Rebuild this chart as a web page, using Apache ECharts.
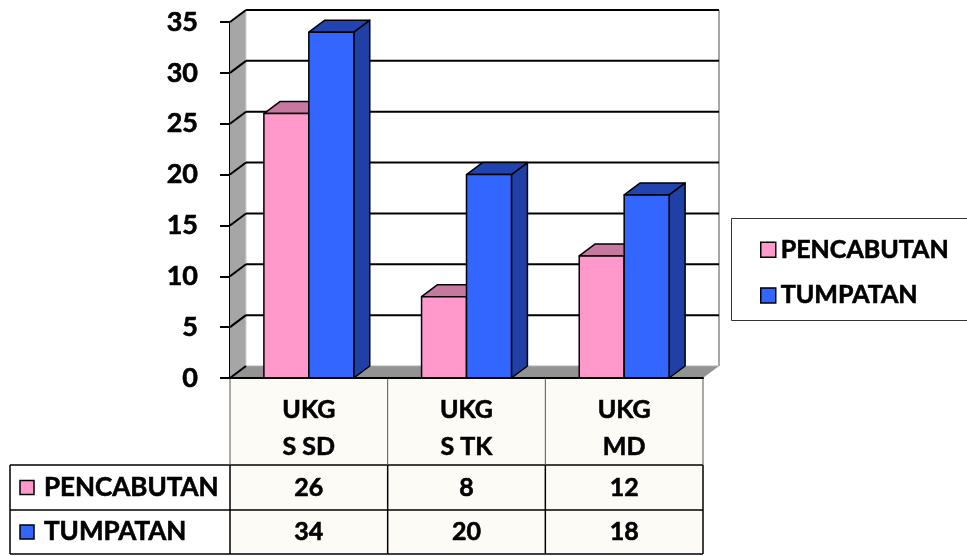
<!DOCTYPE html>
<html><head><meta charset="utf-8">
<script src="https://cdn.jsdelivr.net/npm/echarts@6/dist/echarts.min.js"></script>
<style>html,body{margin:0;padding:0;background:#fff}#c{width:967px;height:556px}</style>
</head><body><div id="c"></div>
<script>
// ---- data ----
const categories = ['UKG\nS SD', 'UKG\nS TK', 'UKG\nMD'];
const seriesNames = ['PENCABUTAN', 'TUMPATAN'];
const pencabutan = [26, 8, 12];
const tumpatan = [34, 20, 18];
const yTicks = [0, 5, 10, 15, 20, 25, 30, 35];

// ---- style ----
const FONT = 'Lato';
const DX = 16, DY = 12;
const colors = [
  {front: '#ff99cc', top: '#c7789f', side: '#b8618c'},
  {front: '#3366ff', top: '#2244b0', side: '#2040a6'}
];
const ROW_Y = [465, 510, 554];
const TB = {textBorderColor: '#000', textBorderWidth: 0.6};

const chart = echarts.init(document.getElementById('c'), null, {renderer: 'canvas'});

function wallRender(params, api) {
  const cs = params.coordSys;
  const x0 = cs.x, x1 = cs.x + cs.width;
  const y = api.coord([0, api.value(1)])[1];
  const children = [];
  if (params.dataIndex === 0) {
    const yTop = cs.y, yBot = cs.y + cs.height;
    children.push({type: 'polygon', shape: {points: [[x0, yTop], [x0 + DX, yTop - DY], [x0 + DX, yBot - DY], [x0, yBot]]},
      style: {fill: '#a6a6a6', stroke: null}});
    children.push({type: 'polygon', shape: {points: [[x0, yBot], [x0 + DX, yBot - DY], [x1 + DX, yBot - DY], [x1, yBot]]},
      style: {fill: '#939393', stroke: null}});
    children.push({type: 'line', shape: {x1: x1 + DX, y1: yTop - DY, x2: x1 + DX, y2: yBot - DY},
      style: {stroke: '#888', lineWidth: 1.5}});
    children.push({type: 'line', shape: {x1: x0 + DX, y1: yTop - DY, x2: x0 + DX, y2: yBot - DY},
      style: {stroke: '#d0d0d0', lineWidth: 1}});
  }
  const isZero = api.value(1) === 0;
  children.push({type: 'line', shape: {x1: x0 + DX, y1: y - DY, x2: x1 + DX, y2: y - DY},
    style: {stroke: isZero ? '#b0b0b0' : '#000', lineWidth: isZero ? 1 : 2}});
  children.push({type: 'line', shape: {x1: x0, y1: y, x2: x0 + DX, y2: y - DY},
    style: {stroke: '#000', lineWidth: 2}});
  return {type: 'group', children};
}

function barRender(si) {
  return function (params, api) {
    const i = api.value(0), v = api.value(1);
    const c = api.coord([i, v]);
    const base = api.coord([i, 0]);
    const band = api.size([1, 0])[0];
    const bw = band * 0.285;
    const left = c[0] - bw + si * bw;
    const right = left + bw;
    const top = c[1], bot = base[1];
    const col = colors[si];
    const st = {stroke: '#000', lineWidth: 1.5, lineJoin: 'round'};
    return {type: 'group', children: [
      {type: 'polygon', shape: {points: [[right, bot], [right + DX, bot - DY], [right + DX, top - DY], [right, top]]},
        style: Object.assign({fill: col.side}, st)},
      {type: 'polygon', shape: {points: [[left, top], [left + DX, top - DY], [right + DX, top - DY], [right, top]]},
        style: Object.assign({fill: col.top}, st)},
      {type: 'rect', shape: {x: left, y: top, width: bw, height: bot - top},
        style: Object.assign({fill: col.front}, st)}
    ]};
  };
}

function tableRender(params, api) {
  const cs = params.coordSys;
  const x0 = cs.x, x1 = cs.x + cs.width;
  const yAxisBase = cs.y + cs.height;
  const band = api.size([1, 0])[0];
  const children = [];
  const LX = 10;
  children.push({type: 'rect', shape: {x: x0, y: yAxisBase, width: x1 - x0, height: ROW_Y[2] - yAxisBase},
    style: {fill: '#fcfbf5'}});
  for (let r = 0; r < 3; r++) {
    children.push({type: 'line', shape: {x1: LX, y1: ROW_Y[r], x2: x1, y2: ROW_Y[r]}, style: {stroke: '#000', lineWidth: 1.5}});
  }
  const vx = [x0];
  for (let k = 0; k < categories.length; k++) vx.push(x0 + band * (k + 1));
  vx.forEach(function (x) {
    children.push({type: 'line', shape: {x1: x, y1: yAxisBase, x2: x, y2: ROW_Y[0]}, style: {stroke: '#555', lineWidth: 1}});
    children.push({type: 'line', shape: {x1: x, y1: ROW_Y[0], x2: x, y2: ROW_Y[2]}, style: {stroke: '#000', lineWidth: 1.5}});
  });
  children.push({type: 'line', shape: {x1: LX, y1: ROW_Y[0], x2: LX, y2: ROW_Y[2]}, style: {stroke: '#000', lineWidth: 1.5}});
  const vals = [pencabutan, tumpatan];
  for (let r = 0; r < 2; r++) {
    const cy = (ROW_Y[r] + ROW_Y[r + 1]) / 2;
    children.push({type: 'rect', shape: {x: 20, y: cy - 7, width: 14, height: 14},
      style: {fill: colors[r].front, stroke: '#000', lineWidth: 1.5}});
    children.push({type: 'text', x: 44, y: cy, style: {text: seriesNames[r], font: 'bold 26px ' + FONT,
      fill: '#000', stroke: '#000', lineWidth: 0.6, verticalAlign: 'middle', align: 'left'}});
    for (let k = 0; k < categories.length; k++) {
      const cx = api.coord([k, 0])[0];
      children.push({type: 'text', x: cx, y: cy, style: {text: String(vals[r][k]), font: 'bold 25px ' + FONT,
        fill: '#000', stroke: '#000', lineWidth: 0.6, verticalAlign: 'middle', align: 'center'}});
    }
  }
  return {type: 'group', children};
}

const option = {
  backgroundColor: '#fff',
  animation: false,
  grid: {left: 230, right: 264, top: 22, bottom: 178},
  xAxis: {
    type: 'category', data: categories,
    axisLine: {show: true, lineStyle: {color: '#000', width: 2}},
    axisTick: {show: false},
    axisLabel: Object.assign({fontFamily: FONT, fontWeight: 'bold', fontSize: 25, color: '#000', lineHeight: 37, margin: 13}, TB),
    z: 5
  },
  yAxis: {
    type: 'value', min: 0, max: 35, interval: 5,
    axisLine: {show: true, lineStyle: {color: '#000', width: 2}},
    axisTick: {show: true, length: 10, lineStyle: {color: '#000', width: 2}},
    axisLabel: Object.assign({fontFamily: FONT, fontWeight: 'bold', fontSize: 27, color: '#000', margin: 32}, TB),
    splitLine: {show: false}
  },
  legend: {
    orient: 'vertical', left: 755, top: 232, itemGap: 20,
    itemWidth: 15, itemHeight: 15, icon: 'rect',
    textStyle: Object.assign({fontFamily: FONT, fontWeight: 'bold', fontSize: 25, color: '#000'}, TB),
    data: seriesNames.map(function (n, i) {
      return {name: n, itemStyle: {color: colors[i].front, borderColor: '#000', borderWidth: 1.5}};
    })
  },
  graphic: [{type: 'rect', left: 731, top: 218, shape: {width: 260, height: 102},
    style: {fill: '#fff', stroke: '#333', lineWidth: 1}, z: -1}],
  series: [
    {type: 'custom', name: 'walls', renderItem: wallRender, data: yTicks.map(function (t) { return [0, t]; }), z: 1, silent: true},
    {type: 'custom', name: seriesNames[0], renderItem: barRender(0), itemStyle: {color: colors[0].front},
      data: pencabutan.map(function (v, i) { return [i, v]; }), z: 3},
    {type: 'custom', name: seriesNames[1], renderItem: barRender(1), itemStyle: {color: colors[1].front},
      data: tumpatan.map(function (v, i) { return [i, v]; }), z: 4},
    {type: 'custom', name: 'table', renderItem: tableRender, data: [[0, 0]], z: 0, silent: true}
  ]
};
chart.setOption(option);
</script>
</body></html>
